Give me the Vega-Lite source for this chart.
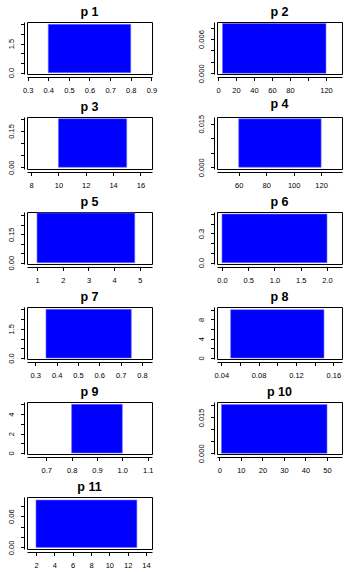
{
  "$schema": "https://vega.github.io/schema/vega-lite/v6.json",
  "padding": {"left": 6, "top": 5, "right": 5, "bottom": 5},
  "background": "white",
  "data": {"values": [
    {"p": "p 1", "x0": 0.4, "x1": 0.8, "d": 2.5},
    {"p": "p 2", "x0": 5, "x1": 120, "d": 0.0087},
    {"p": "p 3", "x0": 10, "x1": 15, "d": 0.2},
    {"p": "p 4", "x0": 60, "x1": 120, "d": 0.01667},
    {"p": "p 5", "x0": 1, "x1": 4.8, "d": 0.2632},
    {"p": "p 6", "x0": 0, "x1": 2, "d": 0.5},
    {"p": "p 7", "x0": 0.35, "x1": 0.75, "d": 2.5},
    {"p": "p 8", "x0": 0.05, "x1": 0.15, "d": 10},
    {"p": "p 9", "x0": 0.8, "x1": 1.0, "d": 5},
    {"p": "p 10", "x0": 1, "x1": 50, "d": 0.0204},
    {"p": "p 11", "x0": 2, "x1": 13, "d": 0.0909}
  ]},
  "columns": 2,
  "bounds": "flush",
  "spacing": {"row": 43, "column": 65},
  "concat": [
    {"title": "p 1", "width": 125, "height": 52,
     "transform": [{"filter": "datum.p == 'p 1'"}],
     "mark": {"type": "rect", "color": "#0000ff", "stroke": "#7070ff", "strokeWidth": 0.6},
     "encoding": {
       "x": {"field": "x0", "type": "quantitative", "scale": {"domain": [0.297, 0.903], "nice": false, "zero": false}, "axis": {"values": [0.3,0.4,0.5,0.6,0.7,0.8,0.9], "format": ".1f", "title": null}},
       "x2": {"field": "x1"},
       "y": {"field": "d", "type": "quantitative", "scale": {"domain": [-0.07, 2.62], "nice": false, "zero": false}, "axis": {"values": [0,0.5,1,1.5,2,2.5], "format": ".1f", "labelExpr": "indexof([0,1.5], datum.value) >= 0 ? datum.label : ''", "title": null}},
       "y2": {"datum": 0}}},
    {"title": "p 2", "width": 125, "height": 52,
     "transform": [{"filter": "datum.p == 'p 2'"}],
     "mark": {"type": "rect", "color": "#0000ff", "stroke": "#7070ff", "strokeWidth": 0.6},
     "encoding": {
       "x": {"field": "x0", "type": "quantitative", "scale": {"domain": [-1.1, 137.8], "nice": false, "zero": false}, "axis": {"values": [0,20,40,60,80,100,120], "format": "d", "labelExpr": "datum.value == 100 ? '' : datum.label", "title": null}},
       "x2": {"field": "x1"},
       "y": {"field": "d", "type": "quantitative", "scale": {"domain": [-0.00012, 0.00897], "nice": false, "zero": false}, "axis": {"values": [0,0.002,0.004,0.006,0.008], "format": ".3f", "labelExpr": "indexof([0,0.006], datum.value) >= 0 ? datum.label : ''", "title": null}},
       "y2": {"datum": 0}}},
    {"title": "p 3", "width": 125, "height": 52,
     "transform": [{"filter": "datum.p == 'p 3'"}],
     "mark": {"type": "rect", "color": "#0000ff", "stroke": "#7070ff", "strokeWidth": 0.6},
     "encoding": {
       "x": {"field": "x0", "type": "quantitative", "scale": {"domain": [7.7, 16.85], "nice": false, "zero": false}, "axis": {"values": [8,10,12,14,16], "format": "d", "title": null}},
       "x2": {"field": "x1"},
       "y": {"field": "d", "type": "quantitative", "scale": {"domain": [-0.007, 0.207], "nice": false, "zero": false}, "axis": {"values": [0,0.05,0.1,0.15,0.2], "format": ".2f", "labelExpr": "indexof([0,0.15], datum.value) >= 0 ? datum.label : ''", "title": null}},
       "y2": {"datum": 0}}},
    {"title": "p 4", "width": 125, "height": 52,
     "transform": [{"filter": "datum.p == 'p 4'"}],
     "mark": {"type": "rect", "color": "#0000ff", "stroke": "#7070ff", "strokeWidth": 0.6},
     "encoding": {
       "x": {"field": "x0", "type": "quantitative", "scale": {"domain": [44.2, 135.2], "nice": false, "zero": false}, "axis": {"values": [60,80,100,120], "format": "d", "title": null}},
       "x2": {"field": "x1"},
       "y": {"field": "d", "type": "quantitative", "scale": {"domain": [-0.0006, 0.0173], "nice": false, "zero": false}, "axis": {"values": [0,0.005,0.01,0.015], "format": ".3f", "labelExpr": "indexof([0,0.015], datum.value) >= 0 ? datum.label : ''", "title": null}},
       "y2": {"datum": 0}}},
    {"title": "p 5", "width": 125, "height": 52,
     "transform": [{"filter": "datum.p == 'p 5'"}],
     "mark": {"type": "rect", "color": "#0000ff", "stroke": "#7070ff", "strokeWidth": 0.6},
     "encoding": {
       "x": {"field": "x0", "type": "quantitative", "scale": {"domain": [0.61, 5.47], "nice": false, "zero": false}, "axis": {"values": [1,2,3,4,5], "format": "d", "title": null}},
       "x2": {"field": "x1"},
       "y": {"field": "d", "type": "quantitative", "scale": {"domain": [-0.007, 0.268], "nice": false, "zero": false}, "axis": {"values": [0,0.05,0.1,0.15,0.2,0.25], "format": ".2f", "labelExpr": "indexof([0,0.15], datum.value) >= 0 ? datum.label : ''", "title": null}},
       "y2": {"datum": 0}}},
    {"title": "p 6", "width": 125, "height": 52,
     "transform": [{"filter": "datum.p == 'p 6'"}],
     "mark": {"type": "rect", "color": "#0000ff", "stroke": "#7070ff", "strokeWidth": 0.6},
     "encoding": {
       "x": {"field": "x0", "type": "quantitative", "scale": {"domain": [-0.095, 2.286], "nice": false, "zero": false}, "axis": {"values": [0,0.5,1,1.5,2], "format": ".1f", "title": null}},
       "x2": {"field": "x1"},
       "y": {"field": "d", "type": "quantitative", "scale": {"domain": [-0.014, 0.521], "nice": false, "zero": false}, "axis": {"values": [0,0.1,0.2,0.3,0.4,0.5], "format": ".1f", "labelExpr": "indexof([0,0.3], datum.value) >= 0 ? datum.label : ''", "title": null}},
       "y2": {"datum": 0}}},
    {"title": "p 7", "width": 125, "height": 52,
     "transform": [{"filter": "datum.p == 'p 7'"}],
     "mark": {"type": "rect", "color": "#0000ff", "stroke": "#7070ff", "strokeWidth": 0.6},
     "encoding": {
       "x": {"field": "x0", "type": "quantitative", "scale": {"domain": [0.261, 0.847], "nice": false, "zero": false}, "axis": {"values": [0.3,0.4,0.5,0.6,0.7,0.8], "format": ".1f", "title": null}},
       "x2": {"field": "x1"},
       "y": {"field": "d", "type": "quantitative", "scale": {"domain": [-0.05, 2.62], "nice": false, "zero": false}, "axis": {"values": [0,0.5,1,1.5,2,2.5], "format": ".1f", "labelExpr": "indexof([0,1.5], datum.value) >= 0 ? datum.label : ''", "title": null}},
       "y2": {"datum": 0}}},
    {"title": "p 8", "width": 125, "height": 52,
     "transform": [{"filter": "datum.p == 'p 8'"}],
     "mark": {"type": "rect", "color": "#0000ff", "stroke": "#7070ff", "strokeWidth": 0.6},
     "encoding": {
       "x": {"field": "x0", "type": "quantitative", "scale": {"domain": [0.0354, 0.1693], "nice": false, "zero": false}, "axis": {"values": [0.04,0.06,0.08,0.1,0.12,0.14,0.16], "format": ".2f", "labelExpr": "indexof([0.04,0.08,0.12,0.16], datum.value) >= 0 ? datum.label : ''", "title": null}},
       "x2": {"field": "x1"},
       "y": {"field": "d", "type": "quantitative", "scale": {"domain": [-0.2, 10.55], "nice": false, "zero": false}, "axis": {"values": [0,2,4,6,8,10], "format": "d", "labelExpr": "indexof([0,4,8], datum.value) >= 0 ? datum.label : ''", "title": null}},
       "y2": {"datum": 0}}},
    {"title": "p 9", "width": 125, "height": 52,
     "transform": [{"filter": "datum.p == 'p 9'"}],
     "mark": {"type": "rect", "color": "#0000ff", "stroke": "#7070ff", "strokeWidth": 0.6},
     "encoding": {
       "x": {"field": "x0", "type": "quantitative", "scale": {"domain": [0.624, 1.117], "nice": false, "zero": false}, "axis": {"values": [0.7,0.8,0.9,1.0,1.1], "format": ".1f", "title": null}},
       "x2": {"field": "x1"},
       "y": {"field": "d", "type": "quantitative", "scale": {"domain": [-0.1, 5.24], "nice": false, "zero": false}, "axis": {"values": [0,1,2,3,4,5], "format": "d", "labelExpr": "indexof([0,2,4], datum.value) >= 0 ? datum.label : ''", "title": null}},
       "y2": {"datum": 0}}},
    {"title": "p 10", "width": 125, "height": 52,
     "transform": [{"filter": "datum.p == 'p 10'"}],
     "mark": {"type": "rect", "color": "#0000ff", "stroke": "#7070ff", "strokeWidth": 0.6},
     "encoding": {
       "x": {"field": "x0", "type": "quantitative", "scale": {"domain": [-1.08, 56.97], "nice": false, "zero": false}, "axis": {"values": [0,10,20,30,40,50], "format": "d", "title": null}},
       "x2": {"field": "x1"},
       "y": {"field": "d", "type": "quantitative", "scale": {"domain": [-0.0003, 0.02145], "nice": false, "zero": false}, "axis": {"values": [0,0.005,0.01,0.015,0.02], "format": ".3f", "labelExpr": "indexof([0,0.015], datum.value) >= 0 ? datum.label : ''", "title": null}},
       "y2": {"datum": 0}}},
    {"title": "p 11", "width": 125, "height": 52,
     "transform": [{"filter": "datum.p == 'p 11'"}],
     "mark": {"type": "rect", "color": "#0000ff", "stroke": "#7070ff", "strokeWidth": 0.6},
     "encoding": {
       "x": {"field": "x0", "type": "quantitative", "scale": {"domain": [1.02, 14.65], "nice": false, "zero": false}, "axis": {"values": [2,4,6,8,10,12,14], "format": "d", "title": null}},
       "x2": {"field": "x1"},
       "y": {"field": "d", "type": "quantitative", "scale": {"domain": [-0.003, 0.0968], "nice": false, "zero": false}, "axis": {"values": [0,0.02,0.04,0.06,0.08], "format": ".2f", "labelExpr": "indexof([0,0.06], datum.value) >= 0 ? datum.label : ''", "title": null}},
       "y2": {"datum": 0}}}
  ],
  "config": {
    "view": {"stroke": "black", "strokeWidth": 1},
    "axis": {"domainColor": "black", "tickColor": "black", "labelColor": "black", "labelFont": "Liberation Sans", "labelFontSize": 7.5, "tickSize": 3.5, "offset": 3, "grid": false, "labelFlush": false, "labelOverlap": false, "domainWidth": 1, "tickWidth": 1},
    "axisX": {"labelPadding": 6},
    "axisY": {"labelAngle": -90, "labelAlign": "center", "labelBaseline": "bottom", "labelPadding": 5},
    "title": {"font": "Liberation Sans", "fontSize": 12.5, "fontWeight": "bold", "color": "black", "anchor": "middle", "baseline": "alphabetic", "offset": 4}
  }
}
